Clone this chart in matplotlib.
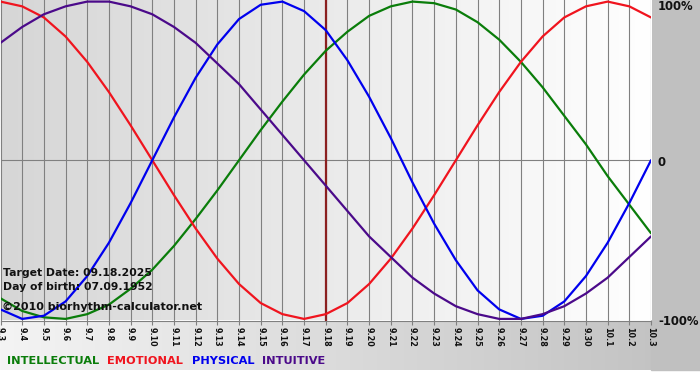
import numpy as np
import matplotlib
matplotlib.use("Agg")
import matplotlib.pyplot as plt
from matplotlib.colors import LinearSegmentedColormap

# ---- data (values per day, -1..1) ----
days = ["9.3", "9.4", "9.5", "9.6", "9.7", "9.8", "9.9", "9.10", "9.11", "9.12",
        "9.13", "9.14", "9.15", "9.16", "9.17", "9.18", "9.19", "9.20", "9.21", "9.22",
        "9.23", "9.24", "9.25", "9.26", "9.27", "9.28", "9.29", "9.30", "10.1", "10.2", "10.3"]

intellectual = [-0.87, -0.95, -0.99, -1.00, -0.97, -0.91, -0.81, -0.69, -0.54, -0.37, -0.19,
                0.00, 0.19, 0.37, 0.54, 0.69, 0.81, 0.91, 0.97, 1.00, 0.99,
                0.95, 0.87, 0.76, 0.62, 0.46, 0.28, 0.10, -0.10, -0.28, -0.46]
emotional = [1.00, 0.97, 0.90, 0.78, 0.62, 0.43, 0.22, 0.00, -0.22, -0.43, -0.62,
             -0.78, -0.90, -0.97, -1.00, -0.97, -0.90, -0.78, -0.62, -0.43, -0.22,
             0.00, 0.22, 0.43, 0.62, 0.78, 0.90, 0.97, 1.00, 0.97, 0.90]
physical = [-0.94, -1.00, -0.98, -0.89, -0.73, -0.52, -0.27, 0.00, 0.27, 0.52, 0.73,
            0.89, 0.98, 1.00, 0.94, 0.82, 0.63, 0.40, 0.14, -0.14, -0.40,
            -0.63, -0.82, -0.94, -1.00, -0.98, -0.89, -0.73, -0.52, -0.27, 0.00]
intuitive = [0.74, 0.84, 0.92, 0.97, 1.00, 1.00, 0.97, 0.92, 0.84, 0.74, 0.61,
             0.48, 0.32, 0.16, 0.00, -0.16, -0.32, -0.48, -0.61, -0.74, -0.84,
             -0.92, -0.97, -1.00, -1.00, -0.97, -0.92, -0.84, -0.74, -0.61, -0.48]

target_index = 15
series_names = ["INTELLECTUAL", "EMOTIONAL", "PHYSICAL", "INTUITIVE"]
series_colors = ["#0a7d0a", "#f0141e", "#0000ee", "#4b0a8a"]
y_labels = ["100%", "0", "-100%"]

W, H = 700, 380
fig = plt.figure(figsize=(W / 100, H / 100), dpi=100)

# ---- background ----
bg = fig.add_axes([0, 0, 1, 1], zorder=-5)
bg.set_xlim(0, W)
bg.set_ylim(H, 0)
bg.axis("off")
bg.add_patch(plt.Rectangle((0, 0), W, H, color="white", zorder=0))
grad_outer = LinearSegmentedColormap.from_list("o", ["#f4f4f4", "#c0c0c0"])
bg.imshow(np.linspace(0, 1, 256)[None, :], cmap=grad_outer, aspect="auto",
          extent=(0, W, 370, 0), zorder=1)
bg.add_patch(plt.Rectangle((651, 0), W - 651, 370, color="#c0c0c0", zorder=2))

# ---- main axes ----
ax_left, ax_right, ax_top, ax_bottom = 0.5, 651, 0, 320.5
ax = fig.add_axes([ax_left / W, 1 - ax_bottom / H, (ax_right - ax_left) / W,
                   (ax_bottom - ax_top) / H])
x = np.arange(len(days))
ylim = (-1.01, 1.01)
ax.set_xlim(0, len(days) - 1)
ax.set_ylim(*ylim)
grad_inner = LinearSegmentedColormap.from_list("i", ["#d6d6d6", "#ffffff"])
ax.imshow(np.linspace(0, 1, 256)[None, :], cmap=grad_inner, aspect="auto",
          extent=(0, len(days) - 1, ylim[0], ylim[1]), zorder=0)

for xi in x:
    ax.axvline(xi, color="#808080", lw=0.8, zorder=1)
ax.axhline(0, color="#808080", lw=0.8, zorder=1)
ax.axvline(target_index, color="#8b2020", lw=1.6, zorder=2)

for vals, col in zip([intellectual, emotional, physical, intuitive], series_colors):
    ax.plot(x, vals, color=col, lw=1.6, zorder=3, solid_capstyle="round",
            solid_joinstyle="round")

for s in ["top", "left", "right"]:
    ax.spines[s].set_visible(False)
ax.spines["bottom"].set_color("#808080")
ax.spines["bottom"].set_linewidth(0.8)
ax.set_yticks([])
ax.set_xticks(x)
ax.set_xticklabels(days, rotation=270, fontsize=5.8, fontweight="bold", color="#111111")
ax.tick_params(axis="x", length=3, width=0.8, color="#808080", pad=2)

# right-side y labels (pixel positions)
for lab, py in zip(y_labels, [7, 162, 321.5]):
    fig.text(658 / W, 1 - py / H, lab, ha="left", va="center",
             fontsize=8.4, fontweight="bold", color="#111111")

# info texts
info_lines = ["Target Date: 09.18.2025", "Day of birth: 07.09.1952"]
for line, py in zip(info_lines, [272.5, 286.5]):
    fig.text(3 / W, 1 - py / H, line, fontsize=7.8, fontweight="bold",
             va="center", ha="left", color="#111111", zorder=10)
fig.text(2 / W, 1 - 306.5 / H, "\u00a92010 biorhythm-calculator.net", fontsize=8.0,
         fontweight="bold", va="center", ha="left", color="#111111", zorder=10)

# legend texts
legend_x = [7.5, 107, 192, 262]
for name, col, lx in zip(series_names, series_colors, legend_x):
    fig.text(lx / W, 1 - 361.5 / H, name, fontsize=8.2, fontweight="bold",
             color=col, va="center", ha="left")

fig.savefig("out.png", dpi=100)
